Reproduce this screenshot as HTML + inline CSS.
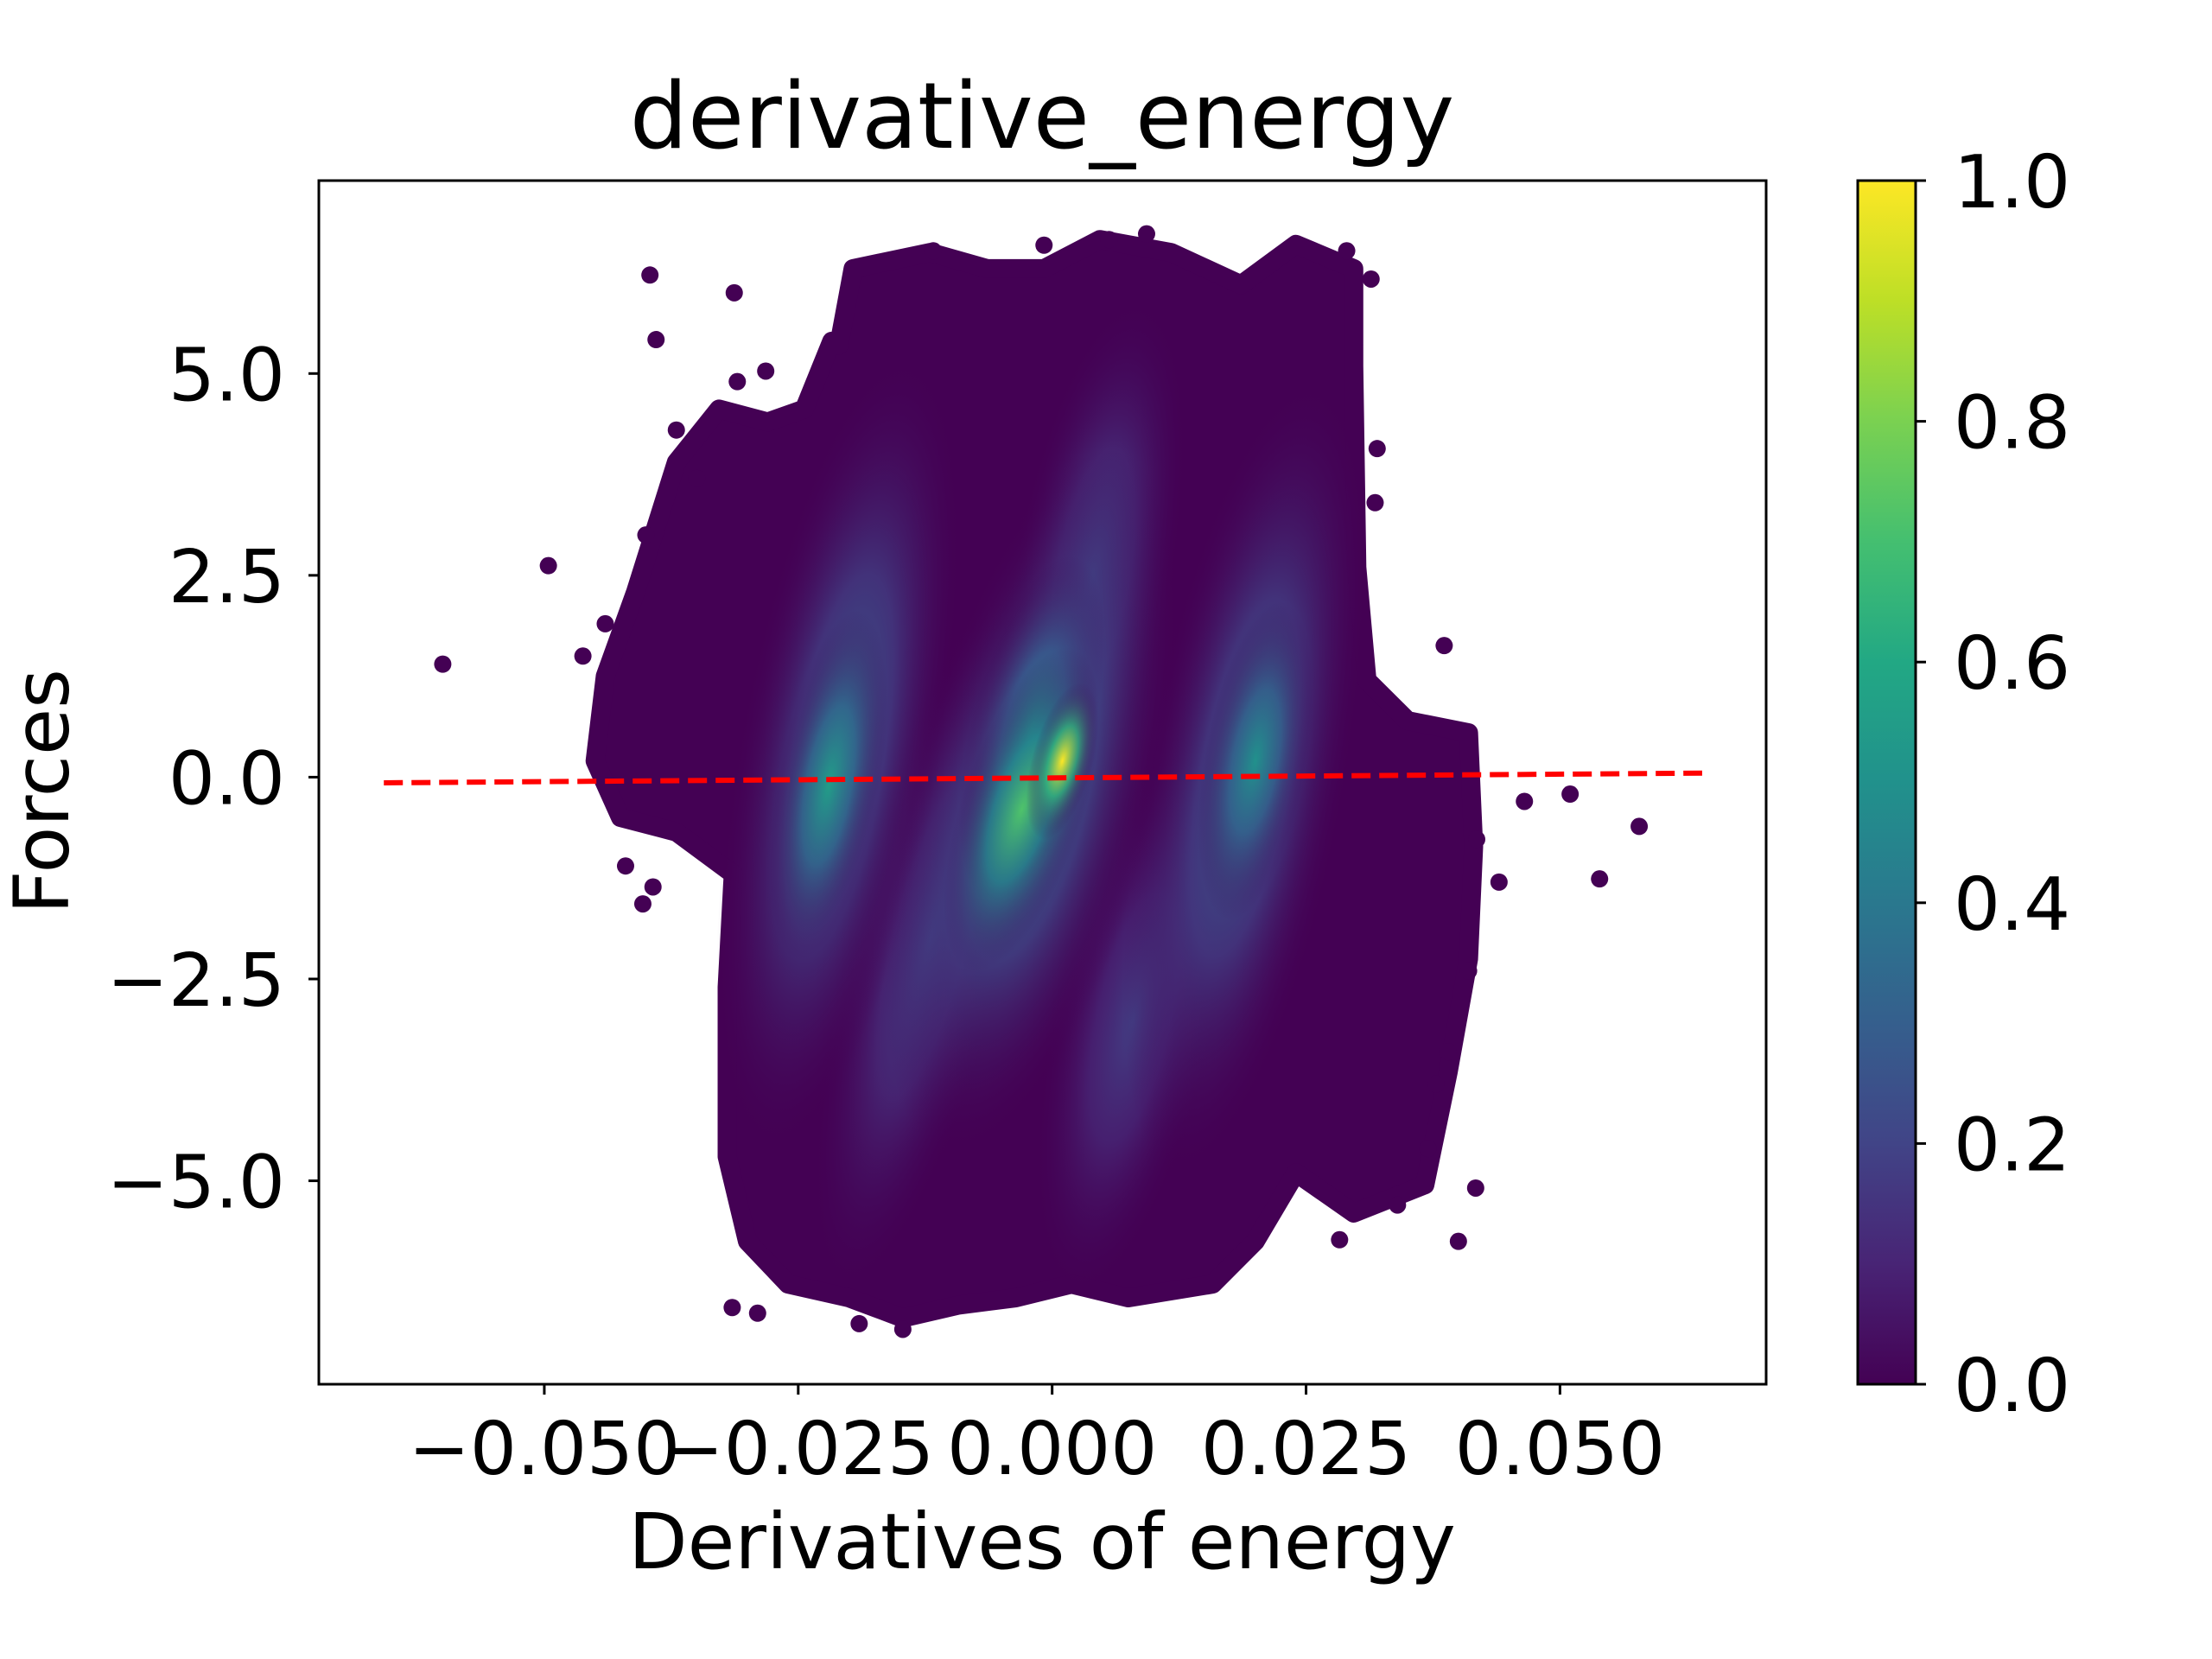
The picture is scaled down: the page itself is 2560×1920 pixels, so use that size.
<!DOCTYPE html>
<html><head><meta charset="utf-8"><style>
html,body{margin:0;padding:0;background:#fff}
svg{display:block;font-family:"DejaVu Sans","Liberation Sans",sans-serif}
</style></head><body>
<svg id="chart" width="2560" height="1920" viewBox="0 0 2560 1920" xmlns="http://www.w3.org/2000/svg">
<defs>
<clipPath id="plotclip"><rect x="369" y="209" width="1675" height="1393"/></clipPath>
<linearGradient id="cbgrad" x1="0" y1="1" x2="0" y2="0">
<stop offset="0" stop-color="#440154"/><stop offset="0.1" stop-color="#482475"/><stop offset="0.2" stop-color="#414487"/><stop offset="0.3" stop-color="#355f8d"/><stop offset="0.4" stop-color="#2a788e"/><stop offset="0.5" stop-color="#21918c"/><stop offset="0.6" stop-color="#22a884"/><stop offset="0.7" stop-color="#44bf70"/><stop offset="0.8" stop-color="#7ad151"/><stop offset="0.9" stop-color="#bddf26"/><stop offset="1" stop-color="#fde725"/>
</linearGradient>
</defs>
<text x="1206" y="171" font-size="106" text-anchor="middle">derivative_energy</text>
<g id="plot" clip-path="url(#plotclip)"></g>
<rect x="369" y="209" width="1675" height="1393" fill="none" stroke="#000" stroke-width="3"/>
<g id="xticks"></g>
<g id="yticks"></g>
<text x="1206" y="1815" font-size="89" text-anchor="middle">Derivatives of energy</text>
<text x="0" y="0" font-size="88" text-anchor="middle" transform="translate(79,916) rotate(-90)">Forces</text>
<rect x="2150" y="209" width="67" height="1393" fill="url(#cbgrad)" stroke="#000" stroke-width="3"/>
<g id="cbticks"></g>
</svg>
<script>
const xTicks=[-0.05,-0.025,0,0.025,0.05];
const xTickLabels=["\u22120.050","\u22120.025","0.000","0.025","0.050"];
const yTicks=[-5,-2.5,0,2.5,5];
const yTickLabels=["\u22125.0","\u22122.5","0.0","2.5","5.0"];
const cbTicks=[0,0.2,0.4,0.6,0.8,1.0];
const cbTickLabels=["0.0","0.2","0.4","0.6","0.8","1.0"];
// dense region outline (data coords)
const regionX=[-0.021,-0.0196,-0.012,-0.0064,-0.0008,0.0047,0.0117,0.0186,0.024,0.0297,0.0297,0.030,0.031,0.035,0.041,0.0415,0.041,0.039,0.0367,0.0297,0.024,0.020,0.0158,0.0075,0.0019,-0.0036,-0.0092,-0.0147,-0.020,-0.026,-0.030,-0.032,-0.032,-0.0314,-0.037,-0.0425,-0.045,-0.044,-0.041,-0.037,-0.0328,-0.028,-0.0244,-0.0217];
const regionY=[5.35,6.3,6.5,6.3,6.3,6.66,6.5,6.1,6.6,6.3,5.1,2.6,1.2,0.7,0.55,-0.86,-2.25,-3.65,-5.05,-5.4,-4.9,-5.75,-6.28,-6.45,-6.28,-6.45,-6.54,-6.7,-6.45,-6.28,-5.75,-4.7,-2.6,-1.2,-0.68,-0.5,0.2,1.25,2.3,3.9,4.56,4.4,4.56,5.4];
// density blobs (drawn low density first)
const blobX=[0.004,0.008,-0.012,-0.021,0.019,-0.002,-0.002,0.020,-0.022,-0.003,0.001];
const blobY=[2.5,-3.0,-2.0,0.3,0.0,-0.3,0.6,0.2,-0.1,-0.4,0.2];
const blobRx=[0.008,0.008,0.008,0.010,0.010,0.012,0.006,0.005,0.005,0.006,0.003];
const blobRy=[3.5,3.5,4.5,5.0,5.0,4.5,2.2,2.0,2.2,2.1,1.0];
const blobTilt=[10,12,14,10,10,14,14,10,10,18,15];
const blobValue=[0.2,0.18,0.2,0.3,0.3,0.35,0.45,0.5,0.55,0.72,1.0];
// isolated points
const ptX=[-0.060,-0.0496,-0.0462,-0.0396,-0.039,-0.0313,-0.0282,-0.031,0.0578,0.0539,0.051,0.0465,0.0418,0.0386,0.040,0.0417,0.0283,-0.0315,-0.029,-0.019,-0.0147,0.0314,0.029,0.0093,0.0056,-0.0008,-0.0117,-0.0393,-0.0403,-0.042,0.039,0.0378,0.0318,0.032,-0.037,-0.035,-0.040,-0.044,0.044,0.041,0.037,0.034];
const ptY=[1.40,2.62,1.50,6.22,5.42,6.0,5.03,4.9,-0.61,-1.26,-0.21,-0.3,-0.77,1.63,-5.75,-5.09,-5.73,-6.57,-6.64,-6.77,-6.84,6.17,6.52,6.73,6.66,6.59,6.52,-1.36,-1.57,-1.1,-3.4,-3.8,3.4,4.07,4.3,3.7,3.0,1.9,-1.3,-2.4,-4.6,-5.3];
const lineX=[-0.0658,0.064];
const lineY=[-0.07,0.05];

const X0=369,X1=2044,Y0=1602,Y1=209,XMIN=-0.0722,XMAX=0.0703,YMIN=-7.52,YMAX=7.39;
const sx=v=>X0+(v-XMIN)/(XMAX-XMIN)*(X1-X0);
const sy=v=>Y0-(v-YMIN)/(YMAX-YMIN)*(Y0-Y1);
const cbY=v=>1602-v*1393;
const NS="http://www.w3.org/2000/svg";
const vir=["#440154","#482475","#414487","#355f8d","#2a788e","#21918c","#22a884","#44bf70","#7ad151","#bddf26","#fde725"];
function hx(c){return [1,3,5].map(i=>parseInt(c.substr(i,2),16));}
function viridis(t){t=Math.max(0,Math.min(1,t));const f=t*10,i=Math.min(9,Math.floor(f)),r=f-i;const a=hx(vir[i]),b=hx(vir[i+1]);return "rgb("+a.map((v,k)=>Math.round(v+(b[k]-v)*r)).join(",")+")";}
function mk(tag,attrs,parent){const e=document.createElementNS(NS,tag);for(const k in attrs)e.setAttribute(k,attrs[k]);parent.appendChild(e);return e;}
const plot=document.getElementById('plot');
const defs=document.querySelector('defs');
const reg=mk('polygon',{points:regionX.map((x,i)=>sx(x)+","+sy(regionY[i])).join(" "),fill:"#440154",stroke:"#440154","stroke-width":"22","stroke-linejoin":"round"},plot);


const bg=mk('g',{},plot);


blobX.forEach((bx,i)=>{
  const g=mk('radialGradient',{id:'bg'+i},defs);
  mk('stop',{offset:"0","stop-color":viridis(blobValue[i]),"stop-opacity":"1"},g);
  mk('stop',{offset:"0.45","stop-color":viridis(blobValue[i]*0.65),"stop-opacity":"0.75"},g);
  mk('stop',{offset:"1","stop-color":"#440154","stop-opacity":"0"},g);
  const cx=sx(bx),cy=sy(blobY[i]);
  const rx=Math.abs(sx(blobRx[i])-sx(0)),ry=Math.abs(sy(blobRy[i])-sy(0));
  const e=mk('ellipse',{cx:cx,cy:cy,rx:rx,ry:ry,fill:"url(#bg"+i+")",transform:"rotate("+blobTilt[i]+" "+cx+" "+cy+")"},bg);
  
  
});
ptX.forEach((px,i)=>{
  const c=mk('circle',{cx:sx(px),cy:sy(ptY[i]),r:10,fill:"#440154"},plot);
  
  
});
const ln=mk('line',{x1:sx(lineX[0]),y1:sy(lineY[0]),x2:sx(lineX[1]),y2:sy(lineY[1]),stroke:"#ff0000","stroke-width":"6","stroke-dasharray":"22,10"},plot);


const xg=document.getElementById('xticks');
xTicks.forEach((v,i)=>{
  const l=mk('line',{x1:sx(v),x2:sx(v),y1:1602,y2:1614,stroke:"#000","stroke-width":"3"},xg);
  
  
  const t=mk('text',{x:sx(v),y:1706,"font-size":"85","text-anchor":"middle"},xg);t.textContent=xTickLabels[i];
  
  
});
const yg=document.getElementById('yticks');
yTicks.forEach((v,i)=>{
  const l=mk('line',{x1:357,x2:369,y1:sy(v),y2:sy(v),stroke:"#000","stroke-width":"3"},yg);
  
  
  const t=mk('text',{x:330,y:sy(v)+31,"font-size":"85","text-anchor":"end"},yg);t.textContent=yTickLabels[i];
  
  
});
const cg=document.getElementById('cbticks');
cbTicks.forEach((v,i)=>{
  const l=mk('line',{x1:2217,x2:2229,y1:cbY(v),y2:cbY(v),stroke:"#000","stroke-width":"3"},cg);
  
  
  const t=mk('text',{x:2261,y:cbY(v)+31,"font-size":"85"},cg);t.textContent=cbTickLabels[i];
  
  
});
</script>
</body></html>
